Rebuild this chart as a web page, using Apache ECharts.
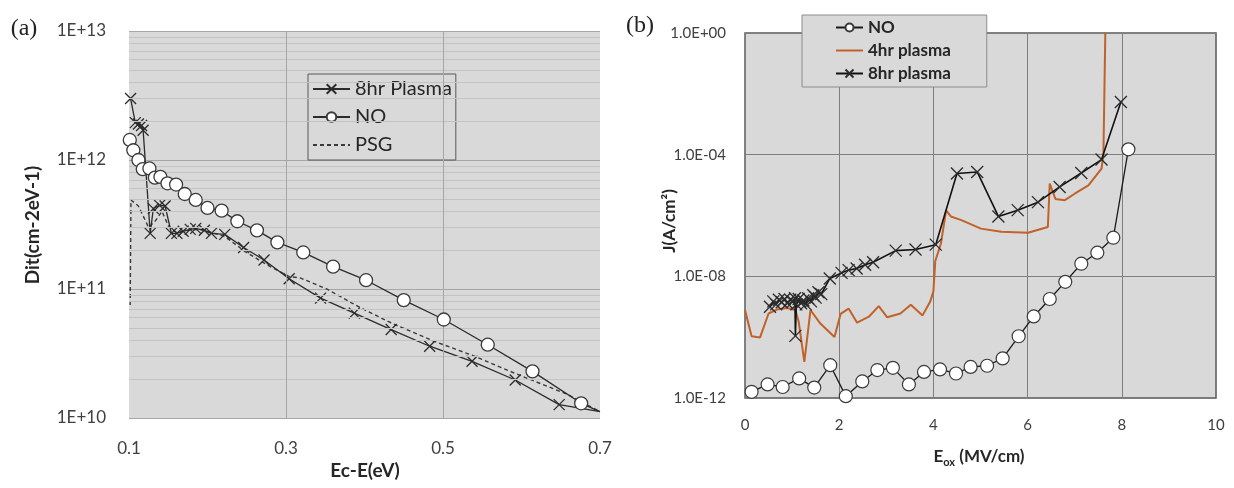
<!DOCTYPE html>
<html>
<head>
<meta charset="utf-8">
<script src="https://cdn.jsdelivr.net/npm/echarts@6/dist/echarts.min.js"></script>
<style>
html,body{margin:0;padding:0;background:#fff;}
#chart{width:1234px;height:488px;}
</style>
</head>
<body>
<div id="chart"></div>
<script>
// ---------- Panel (a): Dit vs Ec-E ----------
const xPlasma8A = [0.102, 0.108, 0.112, 0.116, 0.118, 0.127, 0.131, 0.139, 0.146, 0.154, 0.161, 0.169, 0.178, 0.185, 0.196, 0.205, 0.222, 0.246, 0.272, 0.304, 0.344, 0.387, 0.434, 0.483, 0.537, 0.592, 0.648, 0.700];
const yPlasma8A = [3.0e12, 1.95e12, 1.9e12, 1.85e12, 1.7e12, 2.7e11, 4.2e11, 4.45e11, 4.4e11, 2.7e11, 2.7e11, 2.8e11, 2.9e11, 2.95e11, 2.85e11, 2.7e11, 2.65e11, 2.1e11, 1.68e11, 1.2e11, 8.5e10, 6.5e10, 4.85e10, 3.6e10, 2.75e10, 1.97e10, 1.27e10, 1.12e10];

const xNOA = [0.101, 0.1055, 0.112, 0.1175, 0.126, 0.133, 0.140, 0.149, 0.160, 0.171, 0.185, 0.200, 0.218, 0.238, 0.263, 0.289, 0.322, 0.360, 0.402, 0.450, 0.501, 0.557, 0.614, 0.676, 0.700];
const yNOA = [1.43e12, 1.19e12, 1.0e12, 8.5e11, 8.6e11, 7.3e11, 7.4e11, 6.6e11, 6.45e11, 5.45e11, 4.9e11, 4.25e11, 4.05e11, 3.35e11, 2.85e11, 2.3e11, 1.92e11, 1.49e11, 1.17e11, 8.2e10, 5.8e10, 3.7e10, 2.3e10, 1.3e10, 1.12e10];

const xPSGA = [0.1015, 0.1025, 0.112, 0.125, 0.134, 0.142, 0.150, 0.160, 0.175, 0.190, 0.205, 0.222, 0.248, 0.275, 0.304, 0.318, 0.352, 0.394, 0.437, 0.488, 0.539, 0.594, 0.658, 0.700];
const yPSGA = [7.5e10, 4.9e11, 4.4e11, 3.0e11, 3.4e11, 4.0e11, 3.1e11, 2.75e11, 2.85e11, 2.9e11, 2.75e11, 2.55e11, 1.95e11, 1.55e11, 1.25e11, 1.22e11, 1.0e11, 7.2e10, 5.35e10, 3.95e10, 3.03e10, 2.19e10, 1.53e10, 1.12e10];

const xTickLabelsA = ['0.1', '0.3', '0.5', '0.7'];
const xGridLinesA = [0.3, 0.5];
const minorMultipliersA = [2, 3, 4, 5, 6, 7, 8, 9];
const decadesA = [1e10, 1e11, 1e12];

// ---------- Panel (b): J vs Eox ----------
const xNOB = [0.14, 0.48, 0.80, 1.15, 1.47, 1.81, 2.14, 2.49, 2.81, 3.14, 3.48, 3.80, 4.14, 4.48, 4.79, 5.14, 5.47, 5.81, 6.13, 6.47, 6.80, 7.14, 7.48, 7.82, 8.14];
const yNOB = [1.6e-12, 2.8e-12, 2.3e-12, 4.4e-12, 2.2e-12, 1.2e-11, 1.15e-12, 3.5e-12, 8.3e-12, 9.8e-12, 2.8e-12, 7.2e-12, 8.7e-12, 6.4e-12, 1.05e-11, 1.15e-11, 2.0e-11, 1.07e-10, 4.8e-10, 1.8e-9, 6.6e-9, 2.6e-8, 6.0e-8, 1.86e-7, 1.5e-4];

const xPlasma4B = [0, 0.14, 0.32, 0.50, 0.675, 0.89, 1.07, 1.14, 1.26, 1.39, 1.60, 1.90, 2.03, 2.20, 2.38, 2.63, 2.84, 3.02, 3.30, 3.52, 3.77, 3.93, 4.00, 4.04, 4.16, 4.27, 4.37, 4.58, 5.01, 5.44, 6.01, 6.43, 6.47, 6.59, 6.79, 7.00, 7.29, 7.57, 7.61, 7.65];
const yPlasma4B = [7.8e-10, 1.07e-10, 9.8e-11, 6.0e-10, 8.1e-10, 9.1e-10, 7.8e-10, 3.2e-10, 1.55e-11, 7.8e-10, 2.8e-10, 1.02e-10, 5.8e-10, 8.7e-10, 3.0e-10, 4.7e-10, 1.05e-9, 4.5e-10, 6.0e-10, 1.17e-9, 5.2e-10, 1.45e-9, 3.2e-9, 3.2e-8, 1.2e-7, 1.48e-6, 9.3e-7, 7.2e-7, 3.7e-7, 2.9e-7, 2.7e-7, 4.2e-7, 1.12e-5, 3.5e-6, 3.2e-6, 5.2e-6, 9.8e-6, 3.5e-5, 1.07e-4, 1];

const xPlasma8B = [0.53, 0.60, 0.66, 0.72, 0.78, 0.84, 0.90, 0.96, 1.02, 1.06, 1.07, 1.09, 1.14, 1.19, 1.24, 1.29, 1.34, 1.40, 1.45, 1.50, 1.56, 1.62, 1.80, 2.05, 2.20, 2.37, 2.55, 2.72, 3.20, 3.62, 4.05, 4.50, 4.93, 5.38, 5.79, 6.22, 6.68, 7.14, 7.57, 7.98];
const yPlasma8B = [1.0e-9, 1.5e-9, 1.2e-9, 1.7e-9, 1.4e-9, 1.8e-9, 1.3e-9, 1.7e-9, 1.5e-9, 1.9e-9, 1.1e-10, 1.2e-9, 1.8e-9, 1.3e-9, 1.6e-9, 1.2e-9, 1.9e-9, 1.5e-9, 2.4e-9, 2.0e-9, 3.0e-9, 2.6e-9, 8.5e-9, 1.3e-8, 1.6e-8, 1.8e-8, 2.4e-8, 2.9e-8, 7.0e-8, 7.6e-8, 1.1e-7, 2.4e-5, 2.7e-5, 9.3e-7, 1.5e-6, 2.75e-6, 8.7e-6, 2.5e-5, 6.9e-5, 5.4e-3];

// ---------- helpers ----------
function zip(xs, ys, lastNoSymbol) {
  return xs.map((x, i) => {
    if (lastNoSymbol && i === xs.length - 1) return { value: [x, ys[i]], symbol: 'none' };
    return [x, ys[i]];
  });
}
const minorLinesA = [];
decadesA.forEach(d => minorMultipliersA.forEach(m => minorLinesA.push({ yAxis: d * m })));

const FONT = 'Lato';
const XMARK = 'path://M0,0L10,10M10,0L0,10';

function expA(v) { return '1E+' + Math.round(Math.log10(v)); }
function expB(v) {
  const e = Math.round(Math.log10(v));
  return '1.0E' + (e < 0 ? '-' : '+') + String(Math.abs(e)).padStart(2, '0');
}

const chart = echarts.init(document.getElementById('chart'), null, { renderer: 'canvas' });

const option = {
  animation: false,
  backgroundColor: '#ffffff',
  grid: [
    { left: 129, top: 31, width: 471, height: 387, show: true, backgroundColor: '#d9d9d9', borderWidth: 0 },
    { left: 745, top: 33, width: 471, height: 365, show: true, backgroundColor: '#d9d9d9', borderColor: '#595959', borderWidth: 1.5 }
  ],
  xAxis: [
    {
      gridIndex: 0, type: 'value', min: 0.1, max: 0.7, interval: 0.1,
      axisLine: { show: false }, axisTick: { show: false }, splitLine: { show: false },
      axisLabel: {
        margin: 22, fontFamily: FONT, fontSize: 17, color: '#404040',
        formatter: v => { const s = v.toFixed(1); return xTickLabelsA.indexOf(s) >= 0 ? s : ''; }
      }
    },
    {
      gridIndex: 1, type: 'value', min: 0, max: 10, interval: 2,
      axisLine: { show: false }, axisTick: { show: false },
      splitLine: { show: true, lineStyle: { color: '#7f7f7f', width: 1 } },
      axisLabel: { margin: 20, fontFamily: FONT, fontSize: 15, color: '#404040' }
    }
  ],
  yAxis: [
    {
      gridIndex: 0, type: 'log', logBase: 10, min: 1e10, max: 1e13, splitNumber: 3, interval: 1,
      axisLine: { show: false }, axisTick: { show: false },
      splitLine: { show: true, lineStyle: { color: '#a6a6a6', width: 1 } },
      axisLabel: { margin: 23, fontFamily: FONT, fontSize: 17, color: '#404040', formatter: expA }
    },
    {
      gridIndex: 1, type: 'log', logBase: 10000, min: 1e-12, max: 1, splitNumber: 3, interval: 1,
      axisLine: { show: false }, axisTick: { show: false },
      splitLine: { show: true, lineStyle: { color: '#7f7f7f', width: 1 } },
      axisLabel: { margin: 19, fontFamily: FONT, fontSize: 15, color: '#404040', formatter: expB }
    }
  ],
  legend: [
    {
      left: 308, top: 74, orient: 'vertical', selectedMode: false,
      data: ['8hr Plasma', 'NO', { name: 'PSG', itemStyle: { opacity: 0 } }],
      backgroundColor: '#d9d9d9', borderColor: '#595959', borderWidth: 1,
      padding: [5, 4, 5, 4], itemWidth: 37, itemHeight: 12, itemGap: 8,
      textStyle: { fontFamily: FONT, fontSize: 20, color: '#262626' }
    },
    {
      left: 802, top: 15, orient: 'vertical', selectedMode: false,
      data: ['NO ', { name: '4hr plasma', itemStyle: { opacity: 0 } }, '8hr plasma'],
      backgroundColor: '#d9d9d9', borderColor: '#8c8c8c', borderWidth: 1,
      padding: [4, 36, 5, 33], itemWidth: 27, itemHeight: 10, itemGap: 6,
      textStyle: { fontFamily: FONT, fontSize: 17, fontWeight: 'bold', color: '#262626' }
    }
  ],
  series: [
    {
      name: 'gridA', type: 'line', xAxisIndex: 0, yAxisIndex: 0, data: [], z: 1, silent: true,
      markLine: {
        silent: true, symbol: 'none', label: { show: false }, animation: false,
        lineStyle: { color: '#c3c3c3', type: 'solid', width: 1 },
        data: minorLinesA
      }
    },
    {
      name: 'gridAv', type: 'line', xAxisIndex: 0, yAxisIndex: 0, data: [], z: 1, silent: true,
      markLine: {
        silent: true, symbol: 'none', label: { show: false }, animation: false,
        lineStyle: { color: '#a6a6a6', type: 'solid', width: 1 },
        data: xGridLinesA.map(v => ({ xAxis: v }))
      }
    },
    {
      name: 'PSG', type: 'line', xAxisIndex: 0, yAxisIndex: 0, z: 3,
      data: zip(xPSGA, yPSGA, false), symbol: 'none', showSymbol: false,
      lineStyle: { color: '#3a3a3a', width: 1.4, type: [4, 3] },
      itemStyle: { color: '#3a3a3a' }
    },
    {
      name: '8hr Plasma', type: 'line', xAxisIndex: 0, yAxisIndex: 0, z: 4,
      data: zip(xPlasma8A, yPlasma8A, true), symbol: XMARK, symbolSize: 11,
      lineStyle: { color: '#2b2b2b', width: 1.3 },
      itemStyle: { color: 'rgba(0,0,0,0)', borderColor: '#2b2b2b', borderWidth: 1.3 }
    },
    {
      name: 'NO', type: 'line', xAxisIndex: 0, yAxisIndex: 0, z: 5,
      data: zip(xNOA, yNOA, true), symbol: 'circle', symbolSize: 13,
      lineStyle: { color: '#2b2b2b', width: 1.3 },
      itemStyle: { color: '#ffffff', borderColor: '#3a3a3a', borderWidth: 1.3 }
    },
    {
      name: 'NO ', type: 'line', xAxisIndex: 1, yAxisIndex: 1, z: 5,
      data: zip(xNOB, yNOB, false), symbol: 'circle', symbolSize: 13,
      lineStyle: { color: '#1a1a1a', width: 1.3 },
      itemStyle: { color: '#ffffff', borderColor: '#3a3a3a', borderWidth: 1.2 }
    },
    {
      name: '4hr plasma', type: 'line', xAxisIndex: 1, yAxisIndex: 1, z: 3,
      data: zip(xPlasma4B, yPlasma4B, false), symbol: 'none', showSymbol: false,
      lineStyle: { color: '#c0622a', width: 2 },
      itemStyle: { color: '#c0622a' }
    },
    {
      name: '8hr plasma', type: 'line', xAxisIndex: 1, yAxisIndex: 1, z: 4,
      data: zip(xPlasma8B, yPlasma8B, false), symbol: XMARK, symbolSize: 12,
      lineStyle: { color: '#111111', width: 1.6 },
      itemStyle: { color: 'rgba(0,0,0,0)', borderColor: '#2b2b2b', borderWidth: 1.3 }
    }
  ],
  graphic: [
    { type: 'text', x: 24, y: 29, style: { text: '(a)', font: '24px "Liberation Serif"', fill: '#222', align: 'center', verticalAlign: 'middle' } },
    { type: 'text', x: 640, y: 26, style: { text: '(b)', font: '24px "Liberation Serif"', fill: '#222', align: 'center', verticalAlign: 'middle' } },
    { type: 'text', x: 33, y: 225, rotation: Math.PI / 2, style: { text: 'Dit(cm-2eV-1)', font: 'bold 19px Lato', fill: '#262626', align: 'center', verticalAlign: 'middle' } },
    { type: 'text', x: 365, y: 471, style: { text: 'Ec-E(eV)', font: 'bold 19px Lato', fill: '#262626', align: 'center', verticalAlign: 'middle' } },
    { type: 'text', x: 670, y: 221, rotation: Math.PI / 2, style: { text: 'J(A/cm²)', font: 'bold 17px Lato', fill: '#262626', align: 'center', verticalAlign: 'middle' } },
    {
      type: 'text', x: 979, y: 454,
      style: {
        text: '{m|E}{s|ox}{m| (MV/cm)}', align: 'center', verticalAlign: 'middle',
        rich: {
          m: { fontFamily: FONT, fontWeight: 'bold', fontSize: 17, fill: '#262626', lineHeight: 22, verticalAlign: 'bottom' },
          s: { fontFamily: FONT, fontWeight: 'bold', fontSize: 11, fill: '#262626', lineHeight: 22, verticalAlign: 'bottom', padding: [0, 0, -3, 0] }
        }
      }
    }
  ]
};
chart.setOption(option);
</script>
</body>
</html>
